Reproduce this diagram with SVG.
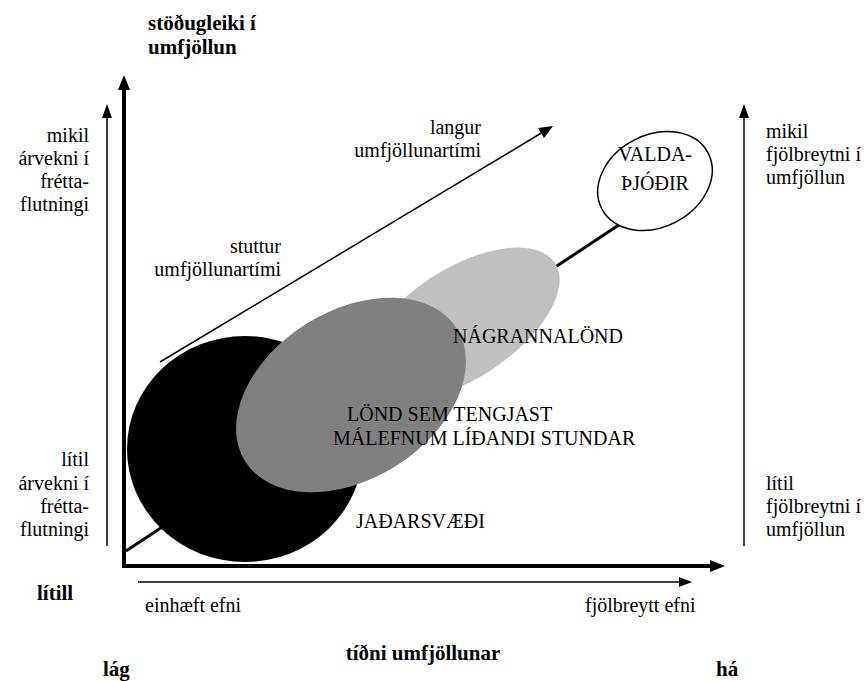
<svg xmlns="http://www.w3.org/2000/svg" width="868" height="681" viewBox="0 0 868 681">
<style>
text{font-family:'Liberation Serif','DejaVu Serif',serif;fill:#000}
.t{font-size:20px}
.b{font-size:21px;font-weight:bold}
.e{text-anchor:end}
.m{text-anchor:middle}
.thin{stroke:#000;stroke-width:1.5;fill:none}
.thick{stroke:#000;stroke-width:4;fill:none}
</style>
<rect width="868" height="681" fill="#fff"/>
<g id="connectors">
  <line class="thick" x1="124" y1="568" x2="124" y2="88"/>
  <polygon points="124,75 118,90 130,90"/>
  <line class="thick" x1="122" y1="566" x2="712" y2="566"/>
  <polygon points="725,566 710,560 710,572"/>
  <line class="thin" x1="107" y1="546" x2="107" y2="116"/>
  <polygon points="107,104 102,118 112,118"/>
  <line class="thin" x1="138" y1="582" x2="680" y2="582"/>
  <polygon points="692,582 679,577 679,587"/>
  <line class="thin" x1="744" y1="546" x2="744" y2="116"/>
  <polygon points="744,104 739,118 749,118"/>
  <line class="thin" x1="160" y1="362" x2="543" y2="132"/>
  <polygon points="553,126 538,128 544,138"/>
  <line stroke="#000" stroke-width="3" x1="126" y1="551" x2="640" y2="211"/>
</g>
<g id="jadarsvaedi"><ellipse cx="245" cy="449" rx="118" ry="113" fill="#000"/></g>
<g id="nagrannalond"><ellipse cx="0" cy="0" rx="112" ry="55" fill="#c0c0c0" transform="translate(461 324) rotate(-33)"/></g>
<g id="lond"><ellipse cx="0" cy="0" rx="125" ry="84" fill="#808080" transform="translate(351 395) rotate(-32)"/></g>
<g id="valda"><ellipse cx="0" cy="0" rx="60" ry="46" fill="#fff" stroke="#000" stroke-width="1.5" transform="translate(655 181) rotate(-28)"/>
<text class="t m" x="655" y="161">VALDA-</text><text class="t m" x="655" y="190">ÞJÓÐIR</text></g>
<g id="labels">
<text class="b" x="148" y="30">stöðugleiki í</text>
<text class="b" x="148" y="54">umfjöllun</text>
<text class="t e" x="89" y="142">mikil</text>
<text class="t e" x="89" y="165">árvekni í</text>
<text class="t e" x="89" y="188">frétta-</text>
<text class="t e" x="89" y="211">flutningi</text>
<text class="t e" x="89" y="466">lítil</text>
<text class="t e" x="89" y="490">árvekni í</text>
<text class="t e" x="89" y="513">frétta-</text>
<text class="t e" x="89" y="536">flutningi</text>
<text class="b" x="37" y="600">lítill</text>
<text class="t" x="766" y="138">mikil</text>
<text class="t" x="766" y="161">fjölbreytni í</text>
<text class="t" x="766" y="184">umfjöllun</text>
<text class="t" x="766" y="490">lítil</text>
<text class="t" x="766" y="513">fjölbreytni í</text>
<text class="t" x="766" y="536">umfjöllun</text>
<text class="t e" x="481" y="134">langur</text>
<text class="t e" x="481" y="157">umfjöllunartími</text>
<text class="t e" x="281" y="253">stuttur</text>
<text class="t e" x="281" y="276">umfjöllunartími</text>
<text class="t" x="145" y="612">einhæft efni</text>
<text class="t" x="585" y="612">fjölbreytt efni</text>
<text class="b" x="103" y="676">lág</text>
<text class="b m" x="423" y="660">tíðni umfjöllunar</text>
<text class="b" x="716" y="676">há</text>
<text class="t" x="453" y="343">NÁGRANNALÖND</text>
<text class="t" x="347" y="421">LÖND SEM TENGJAST</text>
<text class="t" x="333" y="445">MÁLEFNUM LÍÐANDI STUNDAR</text>
<text class="t" x="356" y="528">JAÐARSVÆÐI</text>
</g>
</svg>
